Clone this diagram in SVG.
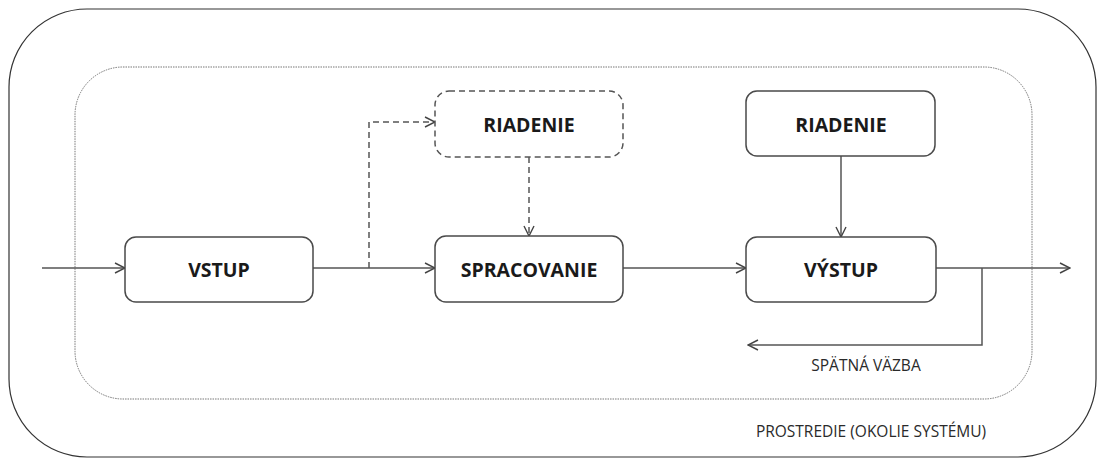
<svg xmlns="http://www.w3.org/2000/svg" width="1097" height="459" viewBox="0 0 1097 459">
  <style>
    .box { fill: #fff; stroke: #4a4a4a; stroke-width: 1.5; }
    .dbox { fill: #fff; stroke: #555; stroke-width: 1.5; stroke-dasharray: 6 4; }
    .lbl { font-family: "Open Sans", "Liberation Sans", sans-serif; font-weight: bold; font-size: 19.5px; fill: #1a1a1a; text-anchor: middle; }
    .note { font-family: "Open Sans", "Liberation Sans", sans-serif; font-size: 15.5px; fill: #2a2a2a; text-anchor: middle; }
    .ln { fill: none; stroke: #555; stroke-width: 1.5; }
    .dln { fill: none; stroke: #555; stroke-width: 1.5; stroke-dasharray: 6 4; }
  </style>
  <defs>
    <marker id="arr" viewBox="0 0 12 12" refX="11" refY="6" markerWidth="12" markerHeight="12" markerUnits="userSpaceOnUse" orient="auto">
      <path d="M1,1 L11,6 L1,11" fill="none" stroke="#444" stroke-width="1.4"/>
    </marker>
  </defs>
  <rect width="1097" height="459" fill="#fff"/>

  <!-- environment boundary -->
  <g id="environment">
    <rect x="9" y="9" width="1087" height="448" rx="78" ry="78" fill="none" stroke="#333" stroke-width="1.2"/>
    <text class="note" x="871" y="437">PROSTREDIE (OKOLIE SYSTÉMU)</text>
  </g>

  <!-- system boundary -->
  <g id="system">
    <rect x="75" y="67" width="957" height="332" rx="48" ry="48" fill="none" stroke="#777" stroke-width="1" stroke-dasharray="1.5 1"/>
  </g>

  <g id="connectors">
    <line class="ln" x1="42" y1="268" x2="125" y2="268" marker-end="url(#arr)"/>
    <line class="ln" x1="313" y1="268" x2="435" y2="268" marker-end="url(#arr)"/>
    <polyline class="dln" points="369,268 369,122 435,122" marker-end="url(#arr)"/>
    <line class="dln" x1="529" y1="157" x2="529" y2="236" marker-end="url(#arr)"/>
    <line class="ln" x1="623" y1="268" x2="746" y2="268" marker-end="url(#arr)"/>
    <line class="ln" x1="841" y1="156" x2="841" y2="237" marker-end="url(#arr)"/>
    <line class="ln" x1="936" y1="268" x2="1070" y2="268" marker-end="url(#arr)"/>
    <polyline class="ln" points="982,268 982,345 748,345" marker-end="url(#arr)"/>
    <text class="note" x="866" y="371">SPÄTNÁ VÄZBA</text>
  </g>

  <g id="vstup">
    <rect class="box" x="125" y="237" width="188" height="65" rx="11"/>
    <text class="lbl" x="219" y="277">VSTUP</text>
  </g>

  <g id="riadenie-1">
    <rect class="dbox" x="435" y="91" width="188" height="66" rx="14"/>
    <text class="lbl" x="529" y="132">RIADENIE</text>
  </g>

  <g id="spracovanie">
    <rect class="box" x="435" y="236" width="188" height="66" rx="11"/>
    <text class="lbl" x="529" y="277">SPRACOVANIE</text>
  </g>

  <g id="riadenie-2">
    <rect class="box" x="746" y="91" width="189" height="65" rx="11"/>
    <text class="lbl" x="841" y="132">RIADENIE</text>
  </g>

  <g id="vystup">
    <rect class="box" x="746" y="237" width="190" height="65" rx="11"/>
    <text class="lbl" x="841" y="277">VÝSTUP</text>
  </g>
</svg>
